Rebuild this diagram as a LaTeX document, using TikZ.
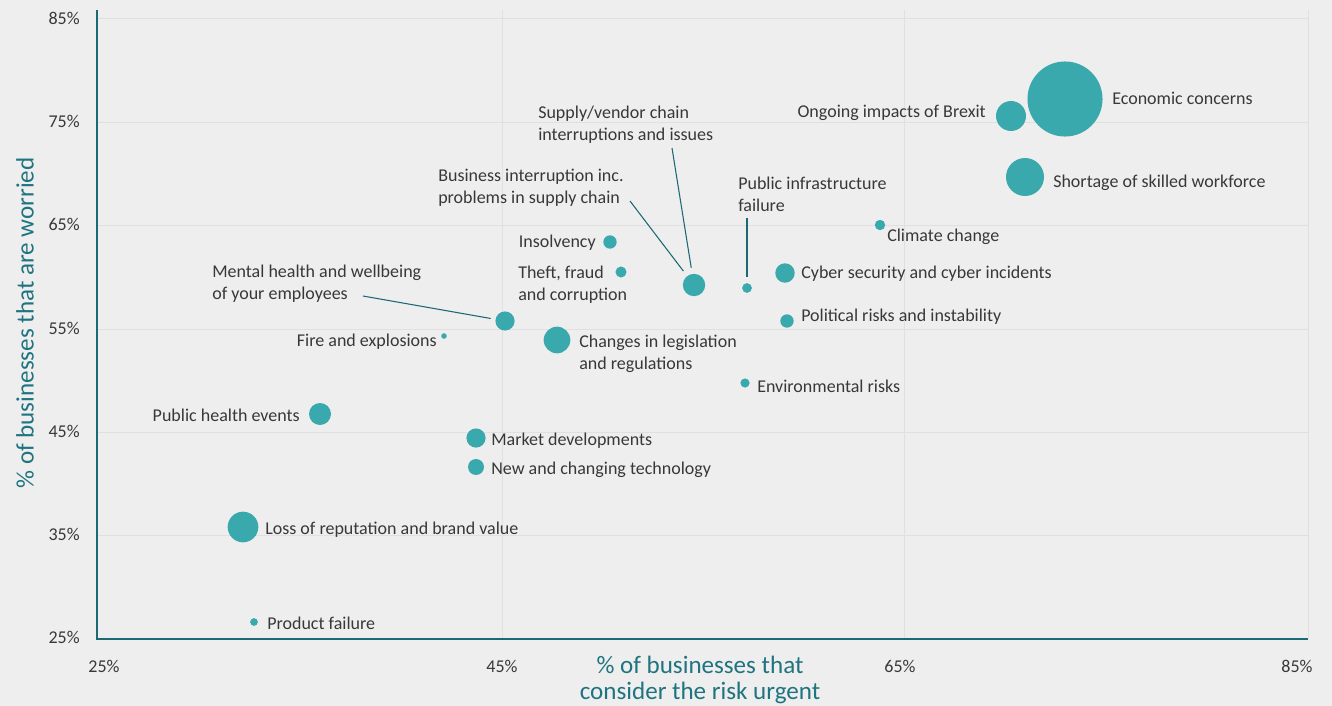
\documentclass[tikz,border=0pt]{standalone}
\usepackage{fontspec}
\setmainfont{Carlito}
\usepackage{tikz}
\definecolor{bgcol}{HTML}{EEEEEE}
\definecolor{gridcol}{HTML}{E0E0E0}
\definecolor{axiscol}{HTML}{1D6875}
\definecolor{bubcol}{HTML}{3AA9AE}
\definecolor{txtcol}{HTML}{383838}
\definecolor{titlecol}{HTML}{1F7480}

\begin{document}
\begin{tikzpicture}[x=0.75pt,y=0.75pt]
	\tikzstyle{every node}+=[inner sep=0pt]
	\tikzstyle{bubble}=[circle,fill=bubcol,draw=none]
	\tikzstyle{lbl}=[text=txtcol,font=\fontsize{13.5}{16.2}\selectfont,align=left]
	\tikzstyle{tick}=[text=txtcol,font=\fontsize{13.5}{16}\selectfont]
	\tikzstyle{axistitle}=[text=titlecol,font=\fontsize{18.8}{19.5}\selectfont]
	\tikzstyle{leader}=[axiscol,line width=0.8pt,shorten >=4.5pt]
	\fill [bgcol] (0,0) rectangle (1332,-706);
	\useasboundingbox (0,0) rectangle (1332,-706);
	\draw [gridcol,line width=0.75pt] (97,-19) -- (1308,-19);
	\draw [gridcol,line width=0.75pt] (97,-122.3) -- (1308,-122.3);
	\draw [gridcol,line width=0.75pt] (97,-225.7) -- (1308,-225.7);
	\draw [gridcol,line width=0.75pt] (97,-329) -- (1308,-329);
	\draw [gridcol,line width=0.75pt] (97,-432.3) -- (1308,-432.3);
	\draw [gridcol,line width=0.75pt] (97,-535.7) -- (1308,-535.7);
	\draw [gridcol,line width=0.75pt] (502,-10) -- (502,-639);
	\draw [gridcol,line width=0.75pt] (904,-10) -- (904,-639);
	\draw [gridcol,line width=0.75pt] (1308,-10) -- (1308,-639);
	\draw [axiscol,line width=1.5pt] (97,-10) -- (97,-639) -- (1308,-639);
	\draw (80,-18) node [tick,anchor=east] {85\%};
	\draw (80,-121.3) node [tick,anchor=east] {75\%};
	\draw (80,-224.7) node [tick,anchor=east] {65\%};
	\draw (80,-328) node [tick,anchor=east] {55\%};
	\draw (80,-431.3) node [tick,anchor=east] {45\%};
	\draw (80,-534.7) node [tick,anchor=east] {35\%};
	\draw (80,-637) node [tick,anchor=east] {25\%};
	\draw (104,-666) node [tick] {25\%};
	\draw (502,-666) node [tick] {45\%};
	\draw (900,-666) node [tick] {65\%};
	\draw (1297,-666) node [tick] {85\%};
	\node (xtitle) [axistitle,align=center] at (700,-680) {\% of businesses that\\consider the risk urgent};
	\node (ytitle) [axistitle,rotate=90] at (25,-323) {\% of businesses that are worried};
	\node (econ) [bubble,minimum size=56.3pt] at (1065,-99) {};
	\node (brexit) [bubble,minimum size=22.5pt] at (1011,-116) {};
	\node (skills) [bubble,minimum size=28.5pt] at (1025,-177) {};
	\node (climate) [bubble,minimum size=7.8pt] at (880,-225) {};
	\node (cyber) [bubble,minimum size=14.6pt] at (785,-273) {};
	\node (infra) [bubble,minimum size=7.3pt] at (747,-288) {};
	\node (supply) [bubble,minimum size=16.8pt] at (694,-285) {};
	\node (insolv) [bubble,minimum size=10pt] at (610,-242) {};
	\node (theft) [bubble,minimum size=8.3pt] at (621,-272) {};
	\node (mental) [bubble,minimum size=14.4pt] at (505,-321) {};
	\node (fire) [bubble,minimum size=4.2pt] at (444,-336) {};
	\node (legis) [bubble,minimum size=20pt] at (557,-340) {};
	\node (politic) [bubble,minimum size=10pt] at (787,-321) {};
	\node (environ) [bubble,minimum size=6.9pt] at (745,-383) {};
	\node (health) [bubble,minimum size=16.5pt] at (320,-414) {};
	\node (market) [bubble,minimum size=14.4pt] at (476,-438) {};
	\node (newtech) [bubble,minimum size=12pt] at (476,-467) {};
	\node (repute) [bubble,minimum size=23pt] at (243,-527) {};
	\node (product) [bubble,minimum size=5.8pt] at (254,-622) {};
	\node (econlbl) [lbl,anchor=west] at (1112,-98) {Economic concerns};
	\node (brexitlbl) [lbl,anchor=east] at (986,-113) {Ongoing impacts of Brexit};
	\node (skillslbl) [lbl,anchor=west] at (1053,-183) {Shortage of skilled workforce};
	\node (climatelbl) [lbl,anchor=west] at (887,-237) {Climate change};
	\node (cyberlbl) [lbl,anchor=west] at (801,-274) {Cyber security and cyber incidents};
	\node (politiclbl) [lbl,anchor=west] at (801,-317) {Political risks and instability};
	\node (environlbl) [lbl,anchor=west] at (757,-386) {Environmental risks};
	\node (infralbl) [lbl,anchor=west] at (738,-194.5) {Public infrastructure\\failure};
	\node (supplylbl) [lbl,anchor=west] at (538,-125) {Supply/vendor chain\\interruptions and issues};
	\node (businesslbl) [lbl,anchor=west] at (438,-187.5) {Business interruption inc.\\problems in supply chain};
	\node (insolvlbl) [lbl,anchor=east] at (596,-243) {Insolvency};
	\node (theftlbl) [lbl,anchor=west] at (518,-284.5) {Theft, fraud\\and corruption};
	\node (mentallbl) [lbl,anchor=west] at (212,-283.5) {Mental health and wellbeing\\of your employees};
	\node (firelbl) [lbl,anchor=east] at (437,-342) {Fire and explosions};
	\node (legislbl) [lbl,anchor=west] at (579,-353.5) {Changes in legislation\\and regulations};
	\node (healthlbl) [lbl,anchor=east] at (300,-415) {Public health events};
	\node (marketlbl) [lbl,anchor=west] at (491,-441) {Market developments};
	\node (newtechlbl) [lbl,anchor=west] at (491,-470) {New and changing technology};
	\node (reputelbl) [lbl,anchor=west] at (265,-530) {Loss of reputation and brand value};
	\node (productlbl) [lbl,anchor=west] at (267,-623) {Product failure};
	\coordinate (supplytail) at (672,-148);
	\coordinate (businesstail) at (630,-201);
	\coordinate (infratail) at (747,-218);
	\coordinate (mentaltail) at (363,-296);
	\draw [leader] (supplytail) -- (supply);
	\draw [leader] (businesstail) -- (supply);
	\draw [leader] (infratail) -- (infra);
	\draw [leader,shorten >=3.5pt] (mentaltail) -- (mental);
\end{tikzpicture}
\end{document}
